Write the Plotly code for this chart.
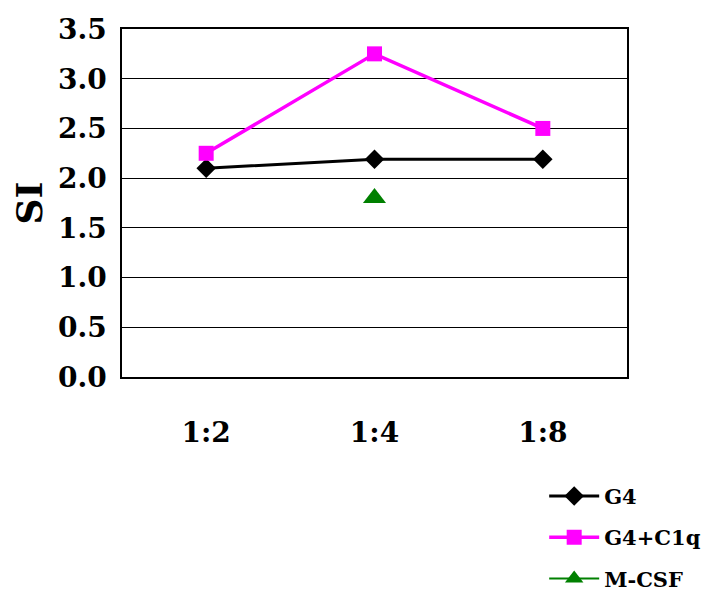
import plotly.graph_objects as go

categories = ["1:2", "1:4", "1:8"]
g4 = [2.1, 2.19, 2.19]
g4_c1q = [2.25, 3.25, 2.5]
mcsf_x = ["1:4"]
mcsf = [1.8]
y_ticks = [0.0, 0.5, 1.0, 1.5, 2.0, 2.5, 3.0, 3.5]

FONT = "DejaVu Serif"

fig = go.Figure()
fig.add_trace(go.Scatter(x=categories, y=g4, name="<b>G4</b>", mode="lines+markers",
                         line=dict(color="black", width=3),
                         marker=dict(symbol="diamond", size=15, color="black"),
                         legendgroup="a"))
fig.add_trace(go.Scatter(x=categories, y=g4_c1q, name="<b>G4+C1q</b>", mode="lines+markers",
                         line=dict(color="#FF00FF", width=3.5),
                         marker=dict(symbol="square", size=15, color="#FF00FF"),
                         legendgroup="b"))
fig.add_trace(go.Scatter(x=mcsf_x, y=mcsf, name="<b>M-CSF</b>", mode="lines+markers",
                         line=dict(color="#008000", width=2),
                         marker=dict(symbol="triangle-up", size=20, color="#008000"),
                         legendgroup="c"))

fig.update_layout(
    width=725, height=597,
    margin=dict(l=114, r=106, t=21, b=228, autoexpand=False),
    plot_bgcolor="white", paper_bgcolor="white",
    font=dict(family=FONT, color="black"),
    showlegend=True,
    legend=dict(x=0.836, y=-0.284, xanchor="left", yanchor="top",
                font=dict(family=FONT, size=21, color="black"),
                tracegroupgap=11, itemwidth=50, bgcolor="rgba(0,0,0,0)"),
    xaxis=dict(type="category", categoryorder="array", categoryarray=categories,
               range=[-0.5, 2.5], showgrid=False, showline=True, mirror=True,
               linecolor="black", linewidth=1.5, ticks="", ticklabelstandoff=30,
               automargin=False,
               tickfont=dict(family=FONT, size=28, color="black", weight="bold")),
    yaxis=dict(range=[0, 3.5], tickvals=y_ticks,
               ticktext=[f"<b>{v:.1f}</b>" for v in y_ticks],
               showgrid=True, gridcolor="black", gridwidth=1,
               showline=True, mirror=True, linecolor="black", linewidth=1.5,
               zeroline=False, ticks="", ticklabelstandoff=8, automargin=False,
               tickfont=dict(family=FONT, size=28, color="black"),
               title=dict(text="<b>SI</b>", font=dict(family=FONT, size=36, color="black"),
                          standoff=14)),
)
fig.write_html("out.html")
